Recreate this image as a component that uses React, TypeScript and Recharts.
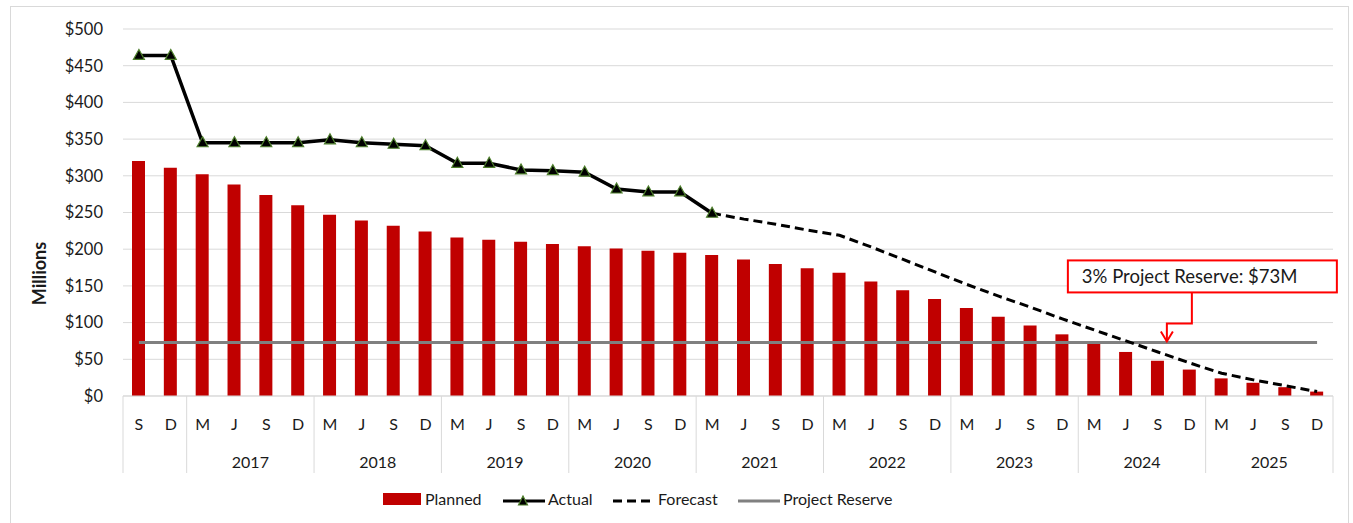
import React from "react";
import {
  ComposedChart,
  Bar,
  Line,
  XAxis,
  YAxis,
  CartesianGrid,
  ReferenceDot,
} from "recharts";

const quarters = [
  "S", "D",
  "M", "J", "S", "D",
  "M", "J", "S", "D",
  "M", "J", "S", "D",
  "M", "J", "S", "D",
  "M", "J", "S", "D",
  "M", "J", "S", "D",
  "M", "J", "S", "D",
  "M", "J", "S", "D",
  "M", "J", "S", "D",
];

const years = [
  "2016", "2016",
  "2017", "2017", "2017", "2017",
  "2018", "2018", "2018", "2018",
  "2019", "2019", "2019", "2019",
  "2020", "2020", "2020", "2020",
  "2021", "2021", "2021", "2021",
  "2022", "2022", "2022", "2022",
  "2023", "2023", "2023", "2023",
  "2024", "2024", "2024", "2024",
  "2025", "2025", "2025", "2025",
];

const planned = [
  320, 311,
  302, 288, 274, 260,
  247, 239, 232, 224,
  216, 213, 210, 207,
  204, 201, 198, 195,
  192, 186, 180, 174,
  168, 156, 144, 132,
  120, 108, 96, 84,
  72, 60, 48, 36,
  24, 18, 12, 6,
];

const actual = [
  464, 464,
  345, 345, 345, 345,
  349, 345, 343, 341,
  317, 317, 308, 307,
  305, 282, 278, 278,
  249, null, null, null,
  null, null, null, null,
  null, null, null, null,
  null, null, null, null,
  null, null, null, null,
];

const forecast = [
  null, null,
  null, null, null, null,
  null, null, null, null,
  null, null, null, null,
  null, null, null, null,
  249, 241, 234, 226,
  219, 203, 186, 169,
  152, 136, 121, 105,
  90, 75, 60, 45,
  31, 22, 14, 6,
];

const reserveLevel = 73;
const yTicks = [0, 50, 100, 150, 200, 250, 300, 350, 400, 450, 500];

const data = quarters.map((q, i) => ({
  key: `${years[i]}-${q}`,
  quarter: q,
  year: years[i],
  planned: planned[i],
  actual: actual[i],
  forecast: forecast[i],
  reserve: reserveLevel,
}));

const W = 1353;
const H = 523;
const MARGIN = { top: 29, right: 20, bottom: 47, left: 0 };
const Y_AXIS_W = 123;
const PLOT_W = W - MARGIN.left - MARGIN.right - Y_AXIS_W;
const BAND = PLOT_W / data.length;
const FONT = "Lato, 'Noto Sans', sans-serif";
const TEXT = "#1a1a1a";
const GRID = "#d9d9d9";

function CategoryTick(props: any) {
  const { x, y, payload } = props;
  const i = payload.index;
  const sep = i === 0 || (i - 2) % 4 === 0;
  const last = i === data.length - 1;
  const yearMid = i >= 2 && (i - 2) % 4 === 1;
  return (
    <g>
      <text x={x} y={y + 27} textAnchor="middle" dominantBaseline="central" fontSize={16} fill={TEXT} fontFamily={FONT}>
        {data[i].quarter}
      </text>
      {sep && <line x1={x - BAND / 2} x2={x - BAND / 2} y1={y} y2={y + 77} stroke={GRID} />}
      {last && <line x1={x + BAND / 2} x2={x + BAND / 2} y1={y} y2={y + 77} stroke={GRID} />}
      {yearMid && (
        <text x={x + BAND / 2} y={y + 65} textAnchor="middle" dominantBaseline="central" fontSize={16} fill={TEXT} fontFamily={FONT}>
          {data[i].year}
        </text>
      )}
    </g>
  );
}

function TriangleDot(props: any) {
  const { cx, cy, index } = props;
  if (cx == null || cy == null || props.value == null) return <g key={index} />;
  return (
    <polygon
      key={index}
      points={`${cx},${cy - 6} ${cx - 5.5},${cy + 4} ${cx + 5.5},${cy + 4}`}
      fill="#000"
      stroke="#4e7f2c"
      strokeWidth={1.2}
    />
  );
}

function ReserveCallout(props: any) {
  const { cx, cy } = props;
  const tipX = cx + 9;
  const tipY = cy - 1;
  const red = "#ff0000";
  return (
    <g>
      <rect x={cx - 90} y={cy - 82} width={269} height={32} fill="#fff" stroke={red} strokeWidth={2} />
      <text x={cx - 76} y={cy - 66} dominantBaseline="central" fontSize={18.5} fill={TEXT} fontFamily={FONT}>
        3% Project Reserve: $73M
      </text>
      <polyline
        points={`${cx + 34},${cy - 50} ${cx + 34},${cy - 19} ${tipX},${cy - 19} ${tipX},${tipY}`}
        fill="none"
        stroke={red}
        strokeWidth={2}
      />
      <polyline
        points={`${tipX - 6},${tipY - 10} ${tipX},${tipY} ${tipX + 6},${tipY - 10}`}
        fill="none"
        stroke={red}
        strokeWidth={2}
      />
    </g>
  );
}

function YLabel(props: any) {
  const { viewBox } = props;
  const x = 39;
  const y = viewBox.y + viewBox.height / 2 + 61;
  return (
    <text x={x} y={y} transform={`rotate(-90 ${x} ${y})`} textAnchor="middle" dominantBaseline="central" fontSize={18} fontWeight={700} fill={TEXT} fontFamily={FONT}>
      Millions
    </text>
  );
}

function LegendRow() {
  const item = (left: number, swatch: React.ReactNode, label: string, textLeft: number) => (
    <div key={label}>
      <div style={{ position: "absolute", left, top: 493 }}>{swatch}</div>
      <div style={{ position: "absolute", left: textLeft, top: 489, fontSize: 16, color: TEXT, fontFamily: FONT, lineHeight: "20px" }}>
        {label}
      </div>
    </div>
  );
  return (
    <>
      {item(383, <div style={{ width: 38, height: 12, background: "#C00000" }} />, "Planned", 425)}
      {item(
        503,
        <svg width={42} height={12}>
          <line x1={0} x2={42} y1={6} y2={6} stroke="#000" strokeWidth={3} />
          <polygon points="20,1 15.5,10 24.5,10" fill="#000" stroke="#4e7f2c" strokeWidth={1.2} />
        </svg>,
        "Actual",
        548
      )}
      {item(
        613,
        <svg width={38} height={12}>
          <line x1={0} x2={38} y1={6} y2={6} stroke="#000" strokeWidth={3} strokeDasharray="9 5" />
        </svg>,
        "Forecast",
        658
      )}
      {item(
        738,
        <svg width={42} height={12}>
          <line x1={0} x2={42} y1={6} y2={6} stroke="#808080" strokeWidth={3} />
        </svg>,
        "Project Reserve",
        783
      )}
    </>
  );
}

export default function App() {
  return (
    <div style={{ position: "absolute", left: 0, top: 0, width: W, height: H, background: "#fff", overflow: "hidden" }}>
      <div style={{ position: "absolute", left: 10, top: 6, width: 1337, height: 540, border: "1px solid #d9d9d9" }} />
      <ComposedChart width={W} height={H} data={data} margin={MARGIN} style={{ position: "absolute", left: 0, top: 0 }}>
        <CartesianGrid vertical={false} stroke={GRID} />
        <XAxis
          dataKey="key"
          interval={0}
          tickLine={false}
          tickSize={0}
          tickMargin={0}
          height={80}
          axisLine={{ stroke: GRID }}
          tick={<CategoryTick />}
        />
        <YAxis
          width={Y_AXIS_W}
          domain={[0, 500]}
          ticks={yTicks}
          tickFormatter={(v) => `$${v}`}
          axisLine={false}
          tickLine={false}
          tickSize={0}
          tickMargin={20}
          tick={{ fontSize: 16.5, fill: TEXT, fontFamily: FONT }}
          label={<YLabel />}
        />
        <Bar dataKey="planned" name="Planned" fill="#C00000" barSize={13} isAnimationActive={false} />
        <Line dataKey="reserve" name="Project Reserve" stroke="#808080" strokeWidth={3} dot={false} isAnimationActive={false} />
        <Line dataKey="forecast" name="Forecast" stroke="#000" strokeWidth={3} strokeDasharray="9 5" dot={false} isAnimationActive={false} />
        <Line dataKey="actual" name="Actual" stroke="#000" strokeWidth={3.5} dot={<TriangleDot />} isAnimationActive={false} />
        <ReferenceDot x="2024-S" y={reserveLevel} shape={<ReserveCallout />} />
      </ComposedChart>
      <LegendRow />
    </div>
  );
}
